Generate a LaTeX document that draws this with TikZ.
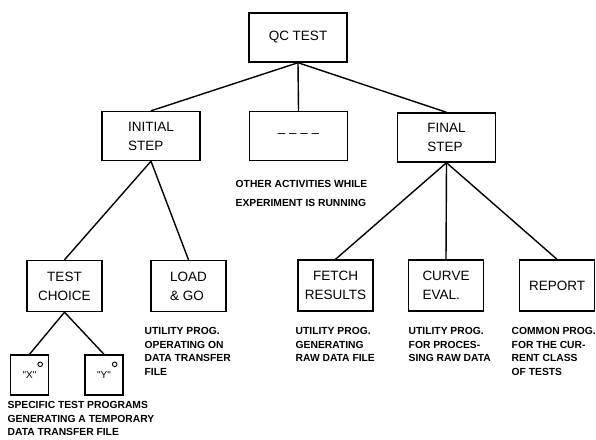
\documentclass[tikz,border=0pt]{standalone}
\usepackage{fontspec}
\setmainfont{Liberation Sans}
\newfontfamily\qfont{Liberation Sans}

\begin{document}
\begin{tikzpicture}[x=1pt, y=-1pt, line width=1.4pt,
  main node/.style={rectangle,draw,inner sep=0pt,minimum width=98pt,minimum height=49pt,font=\fontsize{13.5}{19}\selectfont},
  low node/.style={main node,minimum width=75pt,minimum height=51pt},
  prog node/.style={main node,minimum width=38pt,minimum height=40pt,font=\qfont\fontsize{10}{12}\selectfont},
  note node/.style={anchor=north west,inner sep=0pt,align=left,font=\bfseries\fontsize{10.3}{13.8}\selectfont}]

      \useasboundingbox (0,0) rectangle (596,439);

      \node[main node] (1) at (298,37.5) {QC TEST};
      \node[main node,align=left] (2) at (151,136) {INITIAL\\STEP};
      \node[main node] (3) at (298.5,136) {– – – –};
      \node[main node,align=left] (4) at (446.5,137.5) {FINAL\\STEP};

      \node[low node,align=center] (5) at (64.5,286) {TEST\\CHOICE};
      \node[low node,align=left] (6) at (188.5,286) {LOAD\\\& GO};
      \node[low node,align=center] (7) at (335.5,285.5) {FETCH\\RESULTS};
      \node[low node,align=left] (8) at (446,285.5) {CURVE\\EVAL.};
      \node[low node] (9) at (557,285.5) {REPORT};

      \node[prog node] (10) at (29.5,375) {"X"};
      \node[prog node] (11) at (104,375) {"Y"};
      \draw[line width=0.9pt] ([shift={(-9,10)}]10.north east) circle (2.3pt);
      \draw[line width=0.9pt] ([shift={(-9,10)}]11.north east) circle (2.3pt);

      \path
        (1.south) edge (2.north)
                  edge (3.north)
                  edge (4.north)
        (2.south) edge (5.north)
                  edge (6.north)
        (4.south) edge (7.north)
                  edge (8.north)
                  edge (9.north)
        (5.south) edge (10.north)
                  edge (11.north);

      \node[note node,font=\bfseries\fontsize{10.3}{19}\selectfont] (c3) at (235,179.5) {OTHER ACTIVITIES WHILE\\EXPERIMENT IS RUNNING};
      \node[note node] (c6) at (144,326.5) {UTILITY PROG.\\OPERATING ON\\DATA TRANSFER\\FILE};
      \node[note node] (c7) at (295,326.5) {UTILITY PROG.\\GENERATING\\RAW DATA FILE};
      \node[note node] (c8) at (408,326.5) {UTILITY PROG.\\FOR PROCES-\\SING RAW DATA};
      \node[note node] (c9) at (511,326.5) {COMMON PROG.\\FOR THE CUR-\\RENT CLASS\\OF TESTS};
      \node[note node,font=\bfseries\fontsize{10.3}{13.4}\selectfont] (c10) at (7,401) {SPECIFIC TEST PROGRAMS\\GENERATING A TEMPORARY\\DATA TRANSFER FILE};

    \end{tikzpicture}
\end{document}
